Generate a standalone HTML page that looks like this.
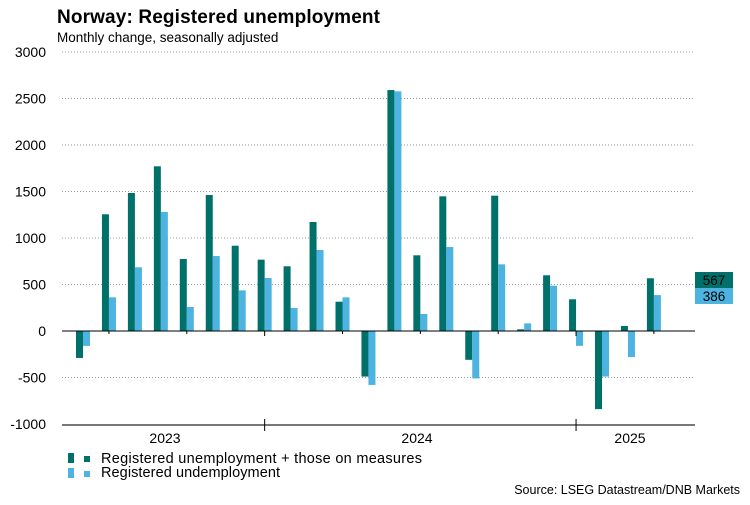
<!DOCTYPE html>
<html><head><meta charset="utf-8"><style>
body{margin:0;background:#fff;}
svg text{font-family:"Liberation Sans",Arial,sans-serif;}
</style></head><body>
<svg id="chart" width="750" height="500" xmlns="http://www.w3.org/2000/svg">
<text x="57" y="23" font-size="19" font-weight="bold" fill="#000" textLength="323">Norway: Registered unemployment</text>
<text x="57" y="42" font-size="13.5" fill="#000">Monthly change, seasonally adjusted</text>
<g id="grid"></g><g id="bars"></g><g id="axes"></g>
<g>
<g>
<rect x="68" y="453" width="6" height="10" fill="#00706b"/><rect x="84" y="456" width="6" height="6" fill="#00706b"/>
<text x="101" y="463" font-size="14.5" fill="#000" textLength="321">Registered unemployment + those on measures</text></g>
<g>
<rect x="68" y="468" width="6" height="10" fill="#4db3e0"/><rect x="84" y="471" width="6" height="6" fill="#4db3e0"/>
<text x="101" y="477" font-size="14.5" fill="#000" textLength="179">Registered undemployment</text></g>
</g>
<text x="740" y="494" font-size="12.5" text-anchor="end" fill="#000">Source: LSEG Datastream/DNB Markets</text>
</svg>
<script>
const measures=[-290,1255,1484,1771,774,1462,917,767,696,1172,315,-490,2591,814,1448,-310,1455,18,599,341,-840,54,567];
const registered=[-160,362,685,1280,258,806,437,570,247,871,362,-580,2577,183,903,-510,717,82,487,-160,-490,-280,386];
const yTicks=[-1000,-500,0,500,1000,1500,2000,2500,3000];
const years=["2023","2024","2025"];
const yearX=[165,417,630];
const NS="http://www.w3.org/2000/svg";
const y=v=>331-v*0.093;
const x=i=>76+25.95*i;
const grid=document.getElementById('grid'),bars=document.getElementById('bars'),axes=document.getElementById('axes');
function mk(tag,attrs,parent){const e=document.createElementNS(NS,tag);for(const k in attrs)e.setAttribute(k,attrs[k]);parent.appendChild(e);return e;}
yTicks.forEach(t=>{
  if(t!==0&&t!==-1000){const l=mk('line',{x1:62,x2:695,y1:y(t),y2:y(t),stroke:'#999','stroke-width':1,'stroke-dasharray':'1,2'},grid);
  
  }
  const tx=mk('text',{x:46,y:y(t)+5,'font-size':14,'text-anchor':'end',fill:'#000'},axes);
  tx.textContent=t;
  
  
});
measures.forEach((v,i)=>{
  const r=mk('rect',{x:x(i),y:Math.min(y(v),y(0)),width:7,height:Math.abs(y(v)-y(0)),fill:'#00706b'},bars);
  
  
});
registered.forEach((v,i)=>{
  const r=mk('rect',{x:x(i)+7,y:Math.min(y(v),y(0)),width:7,height:Math.abs(y(v)-y(0)),fill:'#4db3e0'},bars);
  
  
});
const z=mk('line',{x1:62,x2:695,y1:y(0),y2:y(0),stroke:'#000','stroke-width':1},axes);


const b=mk('line',{x1:62,x2:695,y1:425,y2:425,stroke:'#777','stroke-width':2},axes);


for(let i=1;i<measures.length;i+=3){
  const cx=x(i)+7;const big=(i===7||i===19);
  const t=mk('line',{x1:cx,x2:cx,y1:y(0),y2:y(0)+(big?5:3),stroke:'#000'},axes);
  
  
  if(big){const t2=mk('line',{x1:cx,x2:cx,y1:419,y2:431,stroke:'#000'},axes);
  
  }
}
years.forEach((yr,i)=>{
  const tx=mk('text',{x:yearX[i],y:443,'font-size':14,'text-anchor':'middle',fill:'#000'},axes);
  tx.textContent=yr;
  
  
});
const last=[measures[measures.length-1],registered[registered.length-1]];
const cols=['#00706b','#4db3e0'];
last.forEach((v,i)=>{
  const r=mk('rect',{x:695,y:272+i*16,width:38,height:16,fill:cols[i]},axes);
  
  
  const tx=mk('text',{x:714,y:285+i*16,'font-size':13.5,'text-anchor':'middle',fill:'#000'},axes);
  tx.textContent=v;
  
  
});
</script>
</body></html>
